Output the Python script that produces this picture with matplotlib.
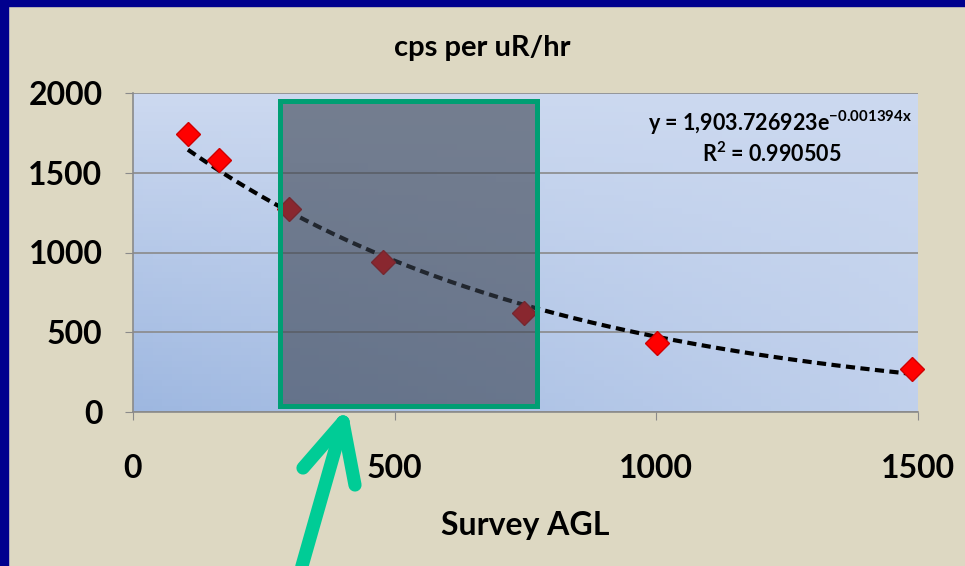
import numpy as np
import matplotlib
matplotlib.use("Agg")
import matplotlib.pyplot as plt
from matplotlib.patches import Rectangle
from matplotlib.lines import Line2D

plt.rcParams['font.family'] = ['Lato', 'DejaVu Sans']
plt.rcParams['mathtext.fontset'] = 'custom'
plt.rcParams['mathtext.rm'] = 'Lato:bold'
plt.rcParams['mathtext.it'] = 'Lato:bold'
plt.rcParams['mathtext.bf'] = 'Lato:bold'

# data
agl = [105, 165, 298, 478, 747, 1001, 1489]
cps = [1745, 1582, 1272, 940, 622, 433, 268]

# trendline from the equation shown on the chart
fit_a = 1903.726923
fit_b = -0.001394
r2 = 0.990505

# highlighted region (data coords)
box_x = [280, 772]
box_y = [38, 1950]

fig = plt.figure(figsize=(9.65, 5.66), dpi=100)
fig.patch.set_facecolor('#ddd8c2')

# dark blue frame on left and top
fig.add_artist(Rectangle((0, 0), 8 / 965, 1, transform=fig.transFigure, color='#00008e', zorder=0))
fig.add_artist(Rectangle((0, 1 - 6 / 566), 1, 6 / 566, transform=fig.transFigure, color='#00008e', zorder=0))

ax = fig.add_axes([133 / 965, 1 - 412 / 566, 785 / 965, 319 / 566])

# gradient background of the plot area (light on top, darker bottom-left)
ny, nx = 50, 80
yy, xx = np.mgrid[0:1:ny * 1j, 0:1:nx * 1j]
top = np.array([0.80, 0.85, 0.94])
bot = np.array([0.62, 0.72, 0.88])
t = (yy * (1 - 0.75 * xx))[..., None]
img = top * (1 - t) + bot * t
ax.imshow(img, extent=[0, 1500, 0, 2000], origin='upper', aspect='auto', zorder=0)
ax.set_xlim(0, 1500)
ax.set_ylim(0, 2000)

ax.set_yticks([0, 500, 1000, 1500, 2000])
ax.set_xticks([0, 500, 1000, 1500])
ax.grid(axis='y', color='#8a8a8a', lw=1.2, zorder=1)
for s in ['top', 'right']:
    ax.spines[s].set_visible(False)
for s in ['left', 'bottom']:
    ax.spines[s].set_color('#8a8a8a')
    ax.spines[s].set_linewidth(1.2)
ax.tick_params(axis='y', length=6, color='#8a8a8a', pad=16, labelsize=23)
ax.tick_params(axis='x', length=6, color='#8a8a8a', pad=24, labelsize=23)
for lab in ax.get_xticklabels() + ax.get_yticklabels():
    lab.set_fontweight('bold')

xs = np.linspace(min(agl), max(agl), 200)
ax.plot(xs, fit_a * np.exp(fit_b * xs), color='black', lw=3, ls=(0, (2.2, 1.3)), zorder=3)
ax.plot(agl, cps, ls='none', marker='D', ms=12, color='#ff0000', mec='#d00000', mew=1,
        zorder=4, clip_on=False)

ax.add_patch(Rectangle((box_x[0], box_y[0]), box_x[1] - box_x[0], box_y[1] - box_y[0],
                       facecolor='#3a4250', alpha=0.6, edgecolor='none', zorder=5))
ax.add_patch(Rectangle((box_x[0], box_y[0]), box_x[1] - box_x[0], box_y[1] - box_y[0],
                       facecolor='none', edgecolor='#009e73', lw=3.6, zorder=6))

ax.text((780 - 133) / 785, (412 - 123) / 319, 'y = 1,903.726923e$^{-0.001394x}$',
        transform=ax.transAxes, ha='center', va='center', fontsize=15.5, fontweight='bold')
ax.text((772 - 133) / 785, (412 - 154) / 319, 'R$^2$ = 0.990505', transform=ax.transAxes,
        ha='center', va='center', fontsize=15.5, fontweight='bold')

fig.text(482 / 965, 1 - 48 / 566, 'cps per uR/hr', ha='center', va='center',
         fontsize=21, fontweight='bold')
fig.text(525 / 965, 1 - 526 / 566, 'Survey AGL', ha='center', va='center',
         fontsize=23, fontweight='bold')

# green arrow
ac = '#00cc96'
tip = (343, 422)
for p in [(298, 580), (303, 468), (355, 485)]:
    fig.add_artist(Line2D([tip[0] / 965, p[0] / 965], [1 - tip[1] / 566, 1 - p[1] / 566],
                          transform=fig.transFigure, color=ac, lw=9.5,
                          solid_capstyle='round', zorder=10))

fig.savefig('out.png', dpi=100, facecolor=fig.get_facecolor())
